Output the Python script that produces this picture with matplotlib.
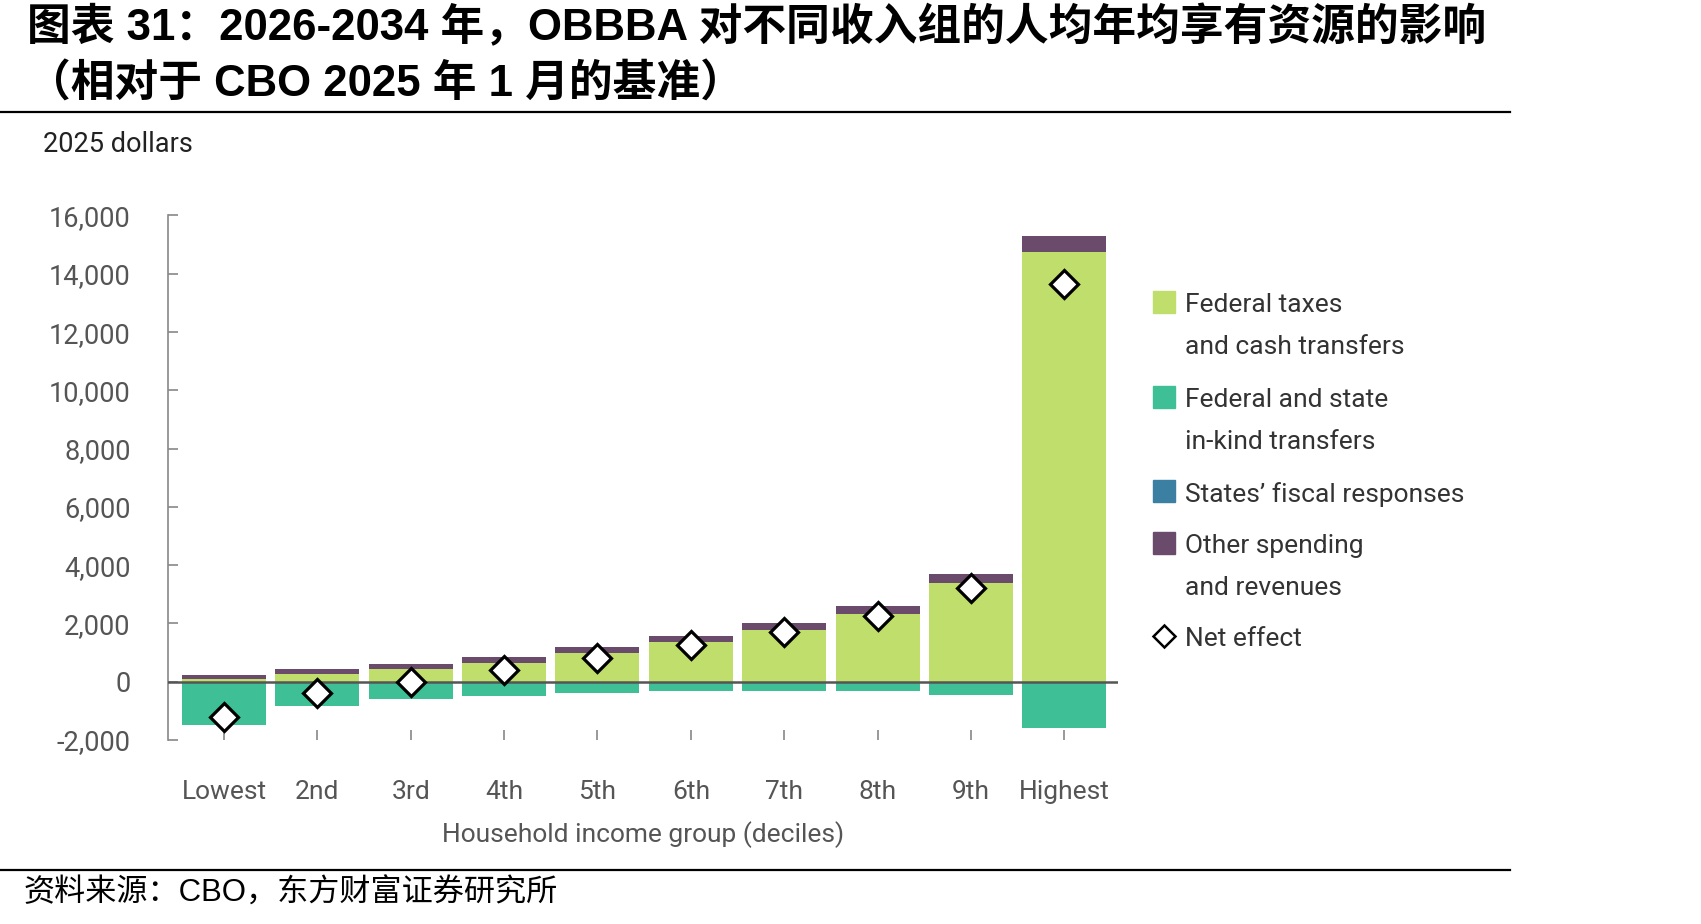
import matplotlib
matplotlib.use('Agg')
import matplotlib.pyplot as plt
from matplotlib.patches import Rectangle
from matplotlib.lines import Line2D
import numpy as np

# data (2025 dollars)
groups = ['Lowest', '2nd', '3rd', '4th', '5th', '6th', '7th', '8th', '9th', 'Highest']
fed_tax = [100, 265, 440, 655, 970, 1365, 1775, 2340, 3380, 14750]
in_kind = [-1480, -850, -610, -480, -400, -330, -310, -330, -460, -1600]
states = [0, 0, 0, 0, 0, 0, 0, 0, 0, 0]
other = [140, 170, 180, 195, 230, 205, 250, 250, 310, 540]
net = [-1200, -400, 0, 390, 815, 1260, 1700, 2270, 3210, 13650]

yticks = [-2000, 0, 2000, 4000, 6000, 8000, 10000, 12000, 14000, 16000]

legend_items = [
    ('patch', 'Federal taxes\nand cash transfers'),
    ('patch', 'Federal and state\nin-kind transfers'),
    ('patch', 'States\u2019 fiscal responses'),
    ('patch', 'Other spending\nand revenues'),
    ('marker', 'Net effect'),
]

C_TAX = '#bfde6b'
C_KIND = '#3fbf96'
C_STATE = '#3b7fa2'
C_OTHER = '#6a4b6c'
GREY = '#555555'

W, H = 1701, 924
fx = lambda x: x / W
fy = lambda y: 1 - y / H

plt.rcParams['font.family'] = ['Roboto', 'DejaVu Sans']
fig = plt.figure(figsize=(W / 100, H / 100), dpi=100)
ax = fig.add_axes([fx(168), fy(740), (1118 - 168) / W, (740 - 215.5) / H])

x = np.arange(len(groups))
bw = 0.9
fed_tax = np.array(fed_tax); states = np.array(states); other = np.array(other)
ax.bar(x, fed_tax, bw, color=C_TAX, zorder=2)
ax.bar(x, states, bw, bottom=fed_tax, color=C_STATE, zorder=2)
ax.bar(x, other, bw, bottom=fed_tax + states, color=C_OTHER, zorder=2)
ax.bar(x, in_kind, bw, color=C_KIND, zorder=2)
ax.axhline(0, color=GREY, lw=1.8, zorder=3)
ax.plot(x, net, ls='none', marker='D', ms=14, mfc='white', mec='black', mew=2.3, zorder=4)

ax.set_xlim(-0.6, 9.575)
ax.set_ylim(-2000, 16000)
ax.set_yticks(yticks)
ax.set_yticklabels([f'{v:,}' for v in yticks])
ax.set_xticks(x)
ax.set_xticklabels(groups)
for s in ['top', 'right', 'bottom']:
    ax.spines[s].set_visible(False)
ax.spines['left'].set_color('#888888')
ax.spines['left'].set_linewidth(1.2)
ax.tick_params(axis='y', direction='in', length=7, width=1.2, color='#888888',
               pad=27, labelsize=19.5, labelcolor=GREY)
ax.tick_params(axis='x', direction='in', length=7, width=1.2, color='#888888',
               pad=29, labelsize=19, labelcolor=GREY)
ax.set_xlabel('Household income group (deciles)', fontsize=19, color=GREY, labelpad=12)

fig.text(fx(43), fy(145), '2025 dollars', fontsize=19.5, color='#222222', va='center', ha='left')

# legend, drawn by hand to follow the original layout
ly = [302, 397, 491, 543, 636]
for (kind, lab), y0, col in zip(legend_items, ly, [C_TAX, C_KIND, C_STATE, C_OTHER, None]):
    if kind == 'patch':
        fig.add_artist(Rectangle((fx(1153), fy(y0 + 11)), 22 / W, 22 / H,
                                 transform=fig.transFigure, color=col))
    else:
        fig.add_artist(Line2D([fx(1164)], [fy(y0)], transform=fig.transFigure, marker='D',
                              ms=11, mfc='white', mec='black', mew=1.8))
    fig.text(fx(1185), fy(y0 - 9), lab, fontsize=19, color='#333333', va='top', ha='left',
             linespacing=1.95)

# title, rules and source
tfam = ['Liberation Sans', 'Noto Sans CJK SC']
fig.text(fx(27), fy(28), '图表 31：2026-2034 年，OBBBA 对不同收入组的人均年均享有资源的影响',
         fontsize=31.5, fontweight='bold', family=tfam, va='center', ha='left')
fig.text(fx(27), fy(85), '（相对于 CBO 2025 年 1 月的基准）',
         fontsize=31.5, fontweight='bold', family=tfam, va='center', ha='left')
fig.add_artist(Line2D([0, fx(1510)], [fy(112), fy(112)], transform=fig.transFigure, color='black', lw=1.6))
fig.add_artist(Line2D([0, fx(1510)], [fy(870), fy(870)], transform=fig.transFigure, color='black', lw=1.6))
fig.text(fx(24), fy(894), '资料来源：CBO，东方财富证券研究所', fontsize=22.4, family=tfam,
         va='center', ha='left')

fig.savefig('out.png', dpi=100)
